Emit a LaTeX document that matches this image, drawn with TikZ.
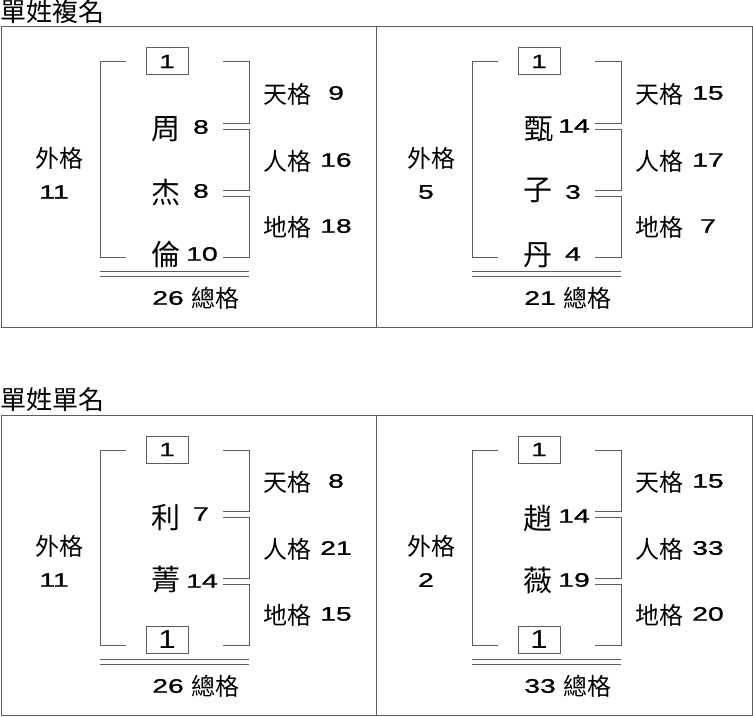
\documentclass[tikz,border=0pt]{standalone}
\usepackage{fontspec}
\setmainfont{Liberation Sans}
\newfontfamily\cjk{Noto Sans CJK TC}
\newfontfamily\shuzi[FakeStretch=1.45, FakeBold=1.2]{Liberation Sans}
\newfontfamily\xishu[FakeStretch=1.2]{Liberation Sans}
\usetikzlibrary{positioning}

\definecolor{xian}{HTML}{5E5E5E}

\tikzset{
    gekuang/.style={draw=xian, line width=1pt},
    ming/.style={inner sep=0pt, font=\cjk\fontsize{29}{29}\selectfont},
    biaoqian/.style={inner sep=0pt, font=\cjk\fontsize{24}{24}\selectfont},
    shu/.style={inner sep=0pt, font=\shuzi\fontsize{19.5}{19.5}\selectfont},
    yihe/.style={gekuang, minimum width=42pt, minimum height=27pt, inner sep=0pt,
        font=\shuzi\fontsize{19}{19}\selectfont},
}

% 格局框: #1 外格, #2 天格, #3 人格, #4 地格, #5 總格
\newcommand{\gejupan}[5]{
    % 左右括線
    \draw[gekuang] (126,62) -- (100,62) -- (100,257) -- (126,257);
    \draw[gekuang] (223,62) -| (249,123) -- (223,123);
    \draw[gekuang] (223,129) -| (249,190) -- (223,190);
    \draw[gekuang] (223,196) -| (249,257) -- (223,257);
    \draw[gekuang] (100,271.5) -- (249,271.5) (100,276.5) -- (249,276.5);

    % 上方的 1
    \node[yihe] (shang) at (167,61.5) {1};

    % 五格
    \node[biaoqian] (wai) at (59,158) {外格};
    \node[shu] (waishu) at (54,192) {#1};
    \node[biaoqian] (tian) at (287,94) {天格};
    \node[shu] (tianshu) at (336,93) {#2};
    \node[biaoqian] (ren) at (287,161) {人格};
    \node[shu] (renshu) at (336,160) {#3};
    \node[biaoqian] (di) at (287,227) {地格};
    \node[shu] (dishu) at (336,226) {#4};
    \node[shu, anchor=east] (zongshu) at (184,298) {#5};
    \node[biaoqian, right=7pt of zongshu] (zong) {總格};
}

\begin{document}
\begin{tikzpicture}[x=1pt, y=-1pt]
    \useasboundingbox (0,0) rectangle (753,717);

    % 標題與外框
    \node[biaoqian, font=\cjk\fontsize{26}{26}\selectfont, anchor=west] (biaoti1) at (0,12) {單姓複名};
    \node[biaoqian, font=\cjk\fontsize{26}{26}\selectfont, anchor=west] (biaoti2) at (0,400) {單姓單名};
    \draw[gekuang] (1,27) rectangle (752,327) (376,27) -- (376,327);
    \draw[gekuang] (1,415) rectangle (752,715) (376,415) -- (376,715);

    % 周杰倫
    \begin{scope}
        \gejupan{11}{9}{16}{18}{26}
        \node[ming] (z1) at (166,129) {周};
        \node[shu] (s1) at (201,127) {8};
        \node[ming] (z2) at (166,192) {杰};
        \node[shu] (s2) at (201,191) {8};
        \node[ming] (z3) at (166,254) {倫};
        \node[shu] (s3) at (202,254) {10};
    \end{scope}

    % 甄子丹
    \begin{scope}[xshift=372pt]
        \gejupan{5}{15}{17}{7}{21}
        \node[ming] (z1) at (167,129) {甄};
        \node[shu] (s1) at (202,126) {14};
        \node[ming] (z2) at (166,190) {子};
        \node[shu] (s2) at (201,192) {3};
        \node[ming] (z3) at (166,255) {丹};
        \node[shu] (s3) at (201,254) {4};
    \end{scope}

    % 利菁
    \begin{scope}[yshift=-388pt]
        \gejupan{11}{8}{21}{15}{26}
        \node[ming] (z1) at (166,130) {利};
        \node[shu] (s1) at (201,126) {7};
        \node[ming] (z2) at (166,192) {菁};
        \node[shu] (s2) at (202,193) {14};
        \node[yihe, font=\xishu\fontsize{26}{26}\selectfont] (xia) at (167,251.5) {1};
    \end{scope}

    % 趙薇
    \begin{scope}[xshift=372pt, yshift=-388pt]
        \gejupan{2}{15}{33}{20}{33}
        \node[ming] (z1) at (166,131) {趙};
        \node[shu] (s1) at (202,128) {14};
        \node[ming] (z2) at (166,192) {薇};
        \node[shu] (s2) at (202,192) {19};
        \node[yihe, font=\xishu\fontsize{26}{26}\selectfont] (xia) at (167,251.5) {1};
    \end{scope}
\end{tikzpicture}
\end{document}
